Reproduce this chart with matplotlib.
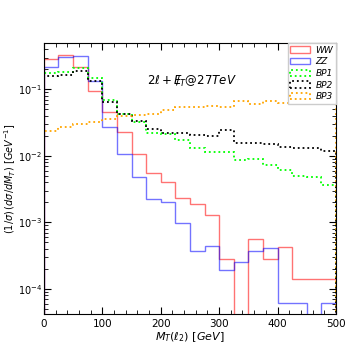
import matplotlib
matplotlib.use("Agg")
import matplotlib.pyplot as plt
import numpy as np
from matplotlib.ticker import MultipleLocator

# bin edges of the M_T(l2) histogram, 25 GeV wide
edges = np.arange(0, 525, 25)
centers = 0.5 * (edges[:-1] + edges[1:])

# normalised distributions
ww = [0.282, 0.331, 0.214, 0.0953, 0.0449, 0.0226, 0.0107, 0.0056, 0.00406, 0.00231,
      0.00190, 0.00131, 0.00028, 0.0, 0.000565, 0.00028, 0.000425, 0.00014, 0.00014, 0.00014]
zz = [0.216, 0.308, 0.316, 0.133, 0.0269, 0.0107, 0.00488, 0.00225, 0.0020, 0.000973,
      0.000378, 0.000444, 0.000194, 0.000255, 0.000378, 0.00041, 6.25e-5, 6.25e-5, 0.0, 6.25e-5]
bp1 = [0.176, 0.185, 0.209, 0.149, 0.0698, 0.0433, 0.0323, 0.0221, 0.0211, 0.0173,
       0.0130, 0.01145, 0.01125, 0.00868, 0.00884, 0.00718, 0.00604, 0.00499, 0.00474, 0.00366]
bp2 = [0.156, 0.167, 0.188, 0.133, 0.0644, 0.0433, 0.0334, 0.0252, 0.0221, 0.0218,
       0.0208, 0.0197, 0.0245, 0.0158, 0.0154, 0.0150, 0.01346, 0.0132, 0.0132, 0.01164]
bp3 = [0.0234, 0.0270, 0.0301, 0.0321, 0.0362, 0.0391, 0.0414, 0.0433, 0.0481, 0.0542,
       0.0552, 0.0571, 0.0542, 0.0672, 0.0608, 0.0667, 0.0634, 0.0728, 0.0715, 0.0715]

fig = plt.figure(figsize=(3.54, 3.54), dpi=100)
ax = fig.add_axes([0.124, 0.113, 0.825, 0.766])

# backgrounds: solid, semi transparent
ax.hist(centers, bins=edges, weights=ww, histtype='step', color='red', alpha=0.55, lw=1.0, label='WW')
ax.hist(centers, bins=edges, weights=zz, histtype='step', color='blue', alpha=0.55, lw=1.0, label='ZZ')
# benchmark points: dotted
ax.hist(centers, bins=edges, weights=bp1, histtype='step', color='lime', ls=':', lw=1.3, label='BP1')
ax.hist(centers, bins=edges, weights=bp2, histtype='step', color='black', ls=':', lw=1.3, label='BP2')
ax.hist(centers, bins=edges, weights=bp3, histtype='step', color='orange', ls=':', lw=1.3, label='BP3')

ax.set_yscale('log')
ax.set_xlim(0, 500)
ax.set_ylim(4.2e-5, 0.5)

ax.xaxis.set_major_locator(MultipleLocator(100))
ax.xaxis.set_minor_locator(MultipleLocator(20))
ax.tick_params(which='both', direction='in', top=True, right=True, labelsize=7.5)
ax.tick_params(axis='y', which='major', pad=1.5, labelsize=7)
ax.tick_params(which='major', length=5)
ax.tick_params(which='minor', length=3)

ax.set_xlabel(r'$M_T(\ell_2)\ [GeV]$', fontsize=8, labelpad=1)
ax.set_ylabel(r'$(1/\sigma)\,(d\sigma/dM_T)\ [GeV^{-1}]$', fontsize=7)
ax.yaxis.set_label_coords(-0.09, 0.5)

ax.text(253, 0.133, r'$2\ell+{E\!\!\!/}_{T}@27TeV$', fontsize=8.5, ha='center', va='center')

leg = ax.legend(loc='upper right', frameon=True, fancybox=False,
                framealpha=1.0, borderaxespad=0.0, handlelength=2.2,
                labelspacing=0.3, borderpad=0.3, handletextpad=0.6,
                prop={'style': 'italic', 'size': 6.5})
leg.get_frame().set_edgecolor('#cccccc')

fig.savefig('out.png', dpi=100)
